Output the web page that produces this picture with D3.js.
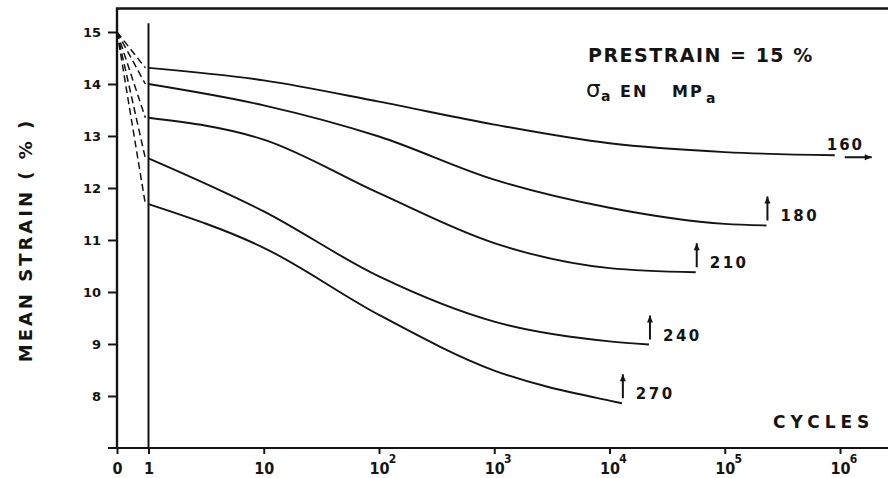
<!DOCTYPE html>
<html>
<head>
<meta charset="utf-8">
<script src="https://cdn.jsdelivr.net/npm/d3@7"></script>
<style>
    body { margin: 0; background: #fff; }
    svg text { font-family: "DejaVu Sans", sans-serif; font-weight: bold; fill: #141414; }
    svg .xlab text { font-family: "Liberation Sans Narrow", "DejaVu Sans Condensed", sans-serif; }
</style>
</head>
<body>
<div id="chart"></div>
<script>
// Data: mean strain (%) vs number of cycles
const yTicks = [8, 9, 10, 11, 12, 13, 14, 15];
const xTicks = [1, 10, 100, 1e3, 1e4, 1e5, 1e6];
const stressLevels = ["160", "180", "210", "240", "270"];
const prestrain = 15;

const cycles160 = [1, 10, 100, 1e3, 1e4, 1e5, 9e5];
const strain160 = [14.31, 14.07, 13.66, 13.22, 12.86, 12.69, 12.63];
const cycles180 = [1, 10, 100, 1e3, 1e4, 1e5, 2.3e5];
const strain180 = [14.00, 13.59, 12.99, 12.16, 11.62, 11.31, 11.28];
const cycles210 = [1, 10, 100, 1e3, 1e4, 5.6e4];
const strain210 = [13.35, 12.93, 11.90, 10.94, 10.46, 10.38];
const cycles240 = [1, 10, 100, 1e3, 1e4, 2.2e4];
const strain240 = [12.57, 11.55, 10.30, 9.43, 9.05, 8.99];
const cycles270 = [1, 10, 100, 1e3, 1e4, 1.28e4];
const strain270 = [11.69, 10.85, 9.56, 8.49, 7.91, 7.86];

const series = [
    { label: stressLevels[0], cycles: cycles160, strain: strain160, runout: "right" },
    { label: stressLevels[1], cycles: cycles180, strain: strain180, runout: "up" },
    { label: stressLevels[2], cycles: cycles210, strain: strain210, runout: "up" },
    { label: stressLevels[3], cycles: cycles240, strain: strain240, runout: "up" },
    { label: stressLevels[4], cycles: cycles270, strain: strain270, runout: "up" }
];

const width = 888, height = 478;
const frame = { left: 117, top: 8.5, right: 888, bottom: 448 };
const ink = "#141414";

const svg = d3.select("#chart").append("svg")
    .attr("width", width)
    .attr("height", height);

// Scales: a linear strip for 0..1 cycle, log scale from 1 cycle on
const y = d3.scaleLinear().domain([7, 15]).range([frame.bottom, 32]);
const xLog = d3.scaleLog().domain([1, 1e6]).range([148.5, 840]);
const xZero = d3.scaleLinear().domain([0, 1]).range([frame.left, 148.5]);
const xPos = n => n >= 1 ? xLog(n) : xZero(n);

// Frame (left + top) and x axis line
svg.append("path")
    .attr("d", `M${frame.left},${frame.bottom}V${frame.top}H${frame.right}`)
    .attr("fill", "none")
    .attr("stroke", ink)
    .attr("stroke-width", 2.4);

svg.append("line")
    .attr("x1", 108).attr("x2", frame.right)
    .attr("y1", frame.bottom).attr("y2", frame.bottom)
    .attr("stroke", ink)
    .attr("stroke-width", 2.2);

// Vertical line at N = 1
svg.append("line")
    .attr("x1", xLog(1)).attr("x2", xLog(1))
    .attr("y1", frame.bottom).attr("y2", y(15.17))
    .attr("stroke", ink)
    .attr("stroke-width", 2);

// Y axis
svg.append("g")
    .attr("transform", `translate(${frame.left},0)`)
    .call(d3.axisLeft(y).tickValues(yTicks).tickSize(9).tickPadding(7).tickFormat(d3.format("d")))
    .call(g => g.select(".domain").remove())
    .call(g => g.selectAll("line").attr("stroke", ink).attr("stroke-width", 2))
    .call(g => g.selectAll("text").attr("font-size", 13).attr("font-family", null).attr("fill", null));

// X axis: zero tick and log ticks
const xAxisG = svg.append("g")
    .attr("class", "xlab")
    .attr("transform", `translate(0,${frame.bottom})`);

xAxisG.append("g")
    .call(d3.axisBottom(xZero).tickValues([0]).tickSize(6).tickPadding(9).tickFormat(d3.format("d")))
    .call(g => g.select(".domain").remove());

xAxisG.append("g")
    .call(d3.axisBottom(xLog).tickValues(xTicks).tickSize(6).tickPadding(9)
        .tickFormat(d => d < 100 ? String(d) : "10"))
    .call(g => g.select(".domain").remove());

xAxisG.selectAll("line").attr("stroke", ink).attr("stroke-width", 2);
xAxisG.selectAll("text")
    .attr("font-size", 16)
    .attr("font-family", null)
    .attr("fill", null);

// superscript exponents for 10^2 ... 10^6
xAxisG.selectAll(".tick")
    .filter(d => d >= 100)
    .each(function(d) {
        const t = d3.select(this).select("text");
        const w = t.node().getComputedTextLength();
        d3.select(this).append("text")
            .attr("x", w / 2 + 3)
            .attr("y", 15)
            .attr("font-size", 12)
            .text(Math.round(Math.log10(d)));
    });

// Dashed transitions from the prestrain to the first cycle
const lineGen = d3.line()
    .x(d => xPos(d[0]))
    .y(d => y(d[1]))
    .curve(d3.curveMonotoneX);

svg.append("g").selectAll("path")
    .data(series)
    .join("path")
    .attr("d", s => d3.line().x(d => xPos(d[0])).y(d => y(d[1]))([[0, prestrain], [0.9, s.strain[0]]]))
    .attr("fill", "none")
    .attr("stroke", ink)
    .attr("stroke-width", 1.5)
    .attr("stroke-dasharray", "7,4");

// Curves
svg.append("g").selectAll("path")
    .data(series)
    .join("path")
    .attr("d", s => lineGen(s.cycles.map((c, i) => [c, s.strain[i]])))
    .attr("fill", "none")
    .attr("stroke", ink)
    .attr("stroke-width", 1.9);

// Run-out arrows and stress labels
function arrow(g, x1, y1, x2, y2) {
    g.append("line")
        .attr("x1", x1).attr("y1", y1).attr("x2", x2).attr("y2", y2)
        .attr("stroke", ink).attr("stroke-width", 2);
    const a = Math.atan2(y2 - y1, x2 - x1);
    const len = 7, half = 3;
    const bx = x2 - len * Math.cos(a), by = y2 - len * Math.sin(a);
    g.append("path")
        .attr("d", `M${x2},${y2}L${bx - half * Math.sin(a)},${by + half * Math.cos(a)}L${bx + half * Math.sin(a)},${by - half * Math.cos(a)}Z`)
        .attr("fill", ink);
}

const ann = svg.append("g");
series.forEach(s => {
    const n = s.cycles.length - 1;
    const ex = xPos(s.cycles[n]), ey = y(s.strain[n]);
    if (s.runout === "up") {
        arrow(ann, ex + 1, ey - 5, ex + 1, ey - 29);
        ann.append("text")
            .attr("x", ex + 14).attr("y", ey - 4)
            .attr("font-size", 15)
            .attr("letter-spacing", 2.5)
            .text(s.label);
    } else {
        arrow(ann, ex + 10, ey + 2, ex + 37, ey + 2);
        ann.append("text")
            .attr("x", ex - 8).attr("y", ey - 5)
            .attr("font-size", 15)
            .attr("letter-spacing", 2)
            .text(s.label);
    }
});

// Titles
svg.append("text")
    .attr("transform", `translate(32,240) rotate(-90)`)
    .attr("text-anchor", "middle")
    .attr("font-size", 18)
    .attr("letter-spacing", 3)
    .text("MEAN STRAIN ( % )");

svg.append("text")
    .attr("x", 773).attr("y", 428)
    .attr("font-size", 17)
    .attr("letter-spacing", 5)
    .text("CYCLES");

svg.append("text")
    .attr("x", 588).attr("y", 62)
    .attr("font-size", 19)
    .attr("letter-spacing", 1.5)
    .text("PRESTRAIN = 15 %");

const sig = svg.append("text").attr("y", 97).attr("font-size", 16);
sig.append("tspan").attr("x", 586).attr("font-size", 23).attr("font-weight", "normal").text("σ");
sig.append("tspan").attr("x", 601).attr("dy", 4).attr("font-size", 14).text("a");
sig.append("tspan").attr("x", 620).attr("dy", -4).attr("letter-spacing", 2).text("EN");
sig.append("tspan").attr("x", 672).attr("letter-spacing", 2).text("MP");
sig.append("tspan").attr("x", 706).attr("dy", 6).attr("font-size", 14).text("a");
</script>
</body>
</html>
